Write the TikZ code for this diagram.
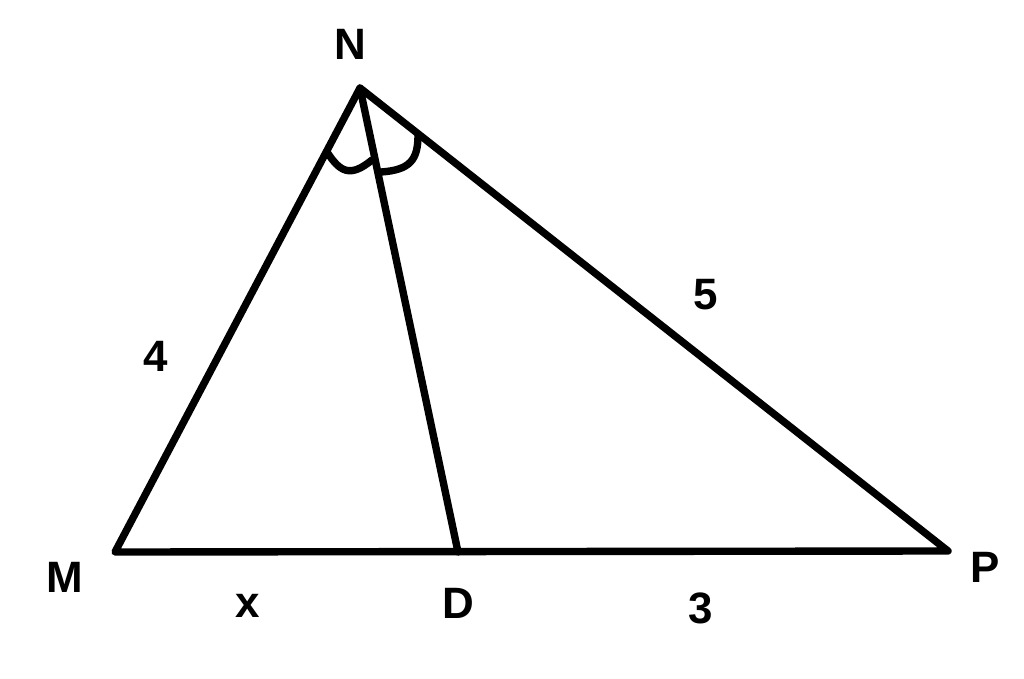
\documentclass[tikz,border=0pt]{standalone}
\usepackage{fontspec}
\setmainfont{Liberation Sans}
\begin{document}
\begin{tikzpicture}[x=0.02cm,y=-0.02cm,
		side/.style={line width=4.2pt,line cap=round,line join=round},
		lbl/.style={font=\fontsize{25}{27}\selectfont\bfseries,inner sep=0pt}]
		\useasboundingbox (0,0) rectangle (1024,679);
		
		\begin{scope}
			\coordinate (N) at (360,88);
			\coordinate (M) at (115,552);
			\coordinate (P) at (948,551);
			\coordinate (D) at (458,552);
		\end{scope}
		
		\begin{scope}[every node/.style={lbl}]
			\node (lN) at (350,44) {N};
			\node (lM) at (65,577) {M};
			\node (lP) at (985,567) {P};
			\node (lD) at (458,603) {D};
			\node (lx) at (248,606) {x};
			\node (l3) at (701,608) {3};
			\node (l4) at (156,356) {4};
			\node (l5) at (706,295) {5};
		\end{scope}
		
		\begin{scope}[side]
			\draw (M) -- (N) -- (P) -- cycle;
			\draw (N) -- (D);
			\draw (327,152) .. controls (340,172) and (350,178) .. (372,160);
			\draw (381,172) .. controls (410,170) and (418,160) .. (418,135);
		\end{scope}
	\end{tikzpicture}
\end{document}
